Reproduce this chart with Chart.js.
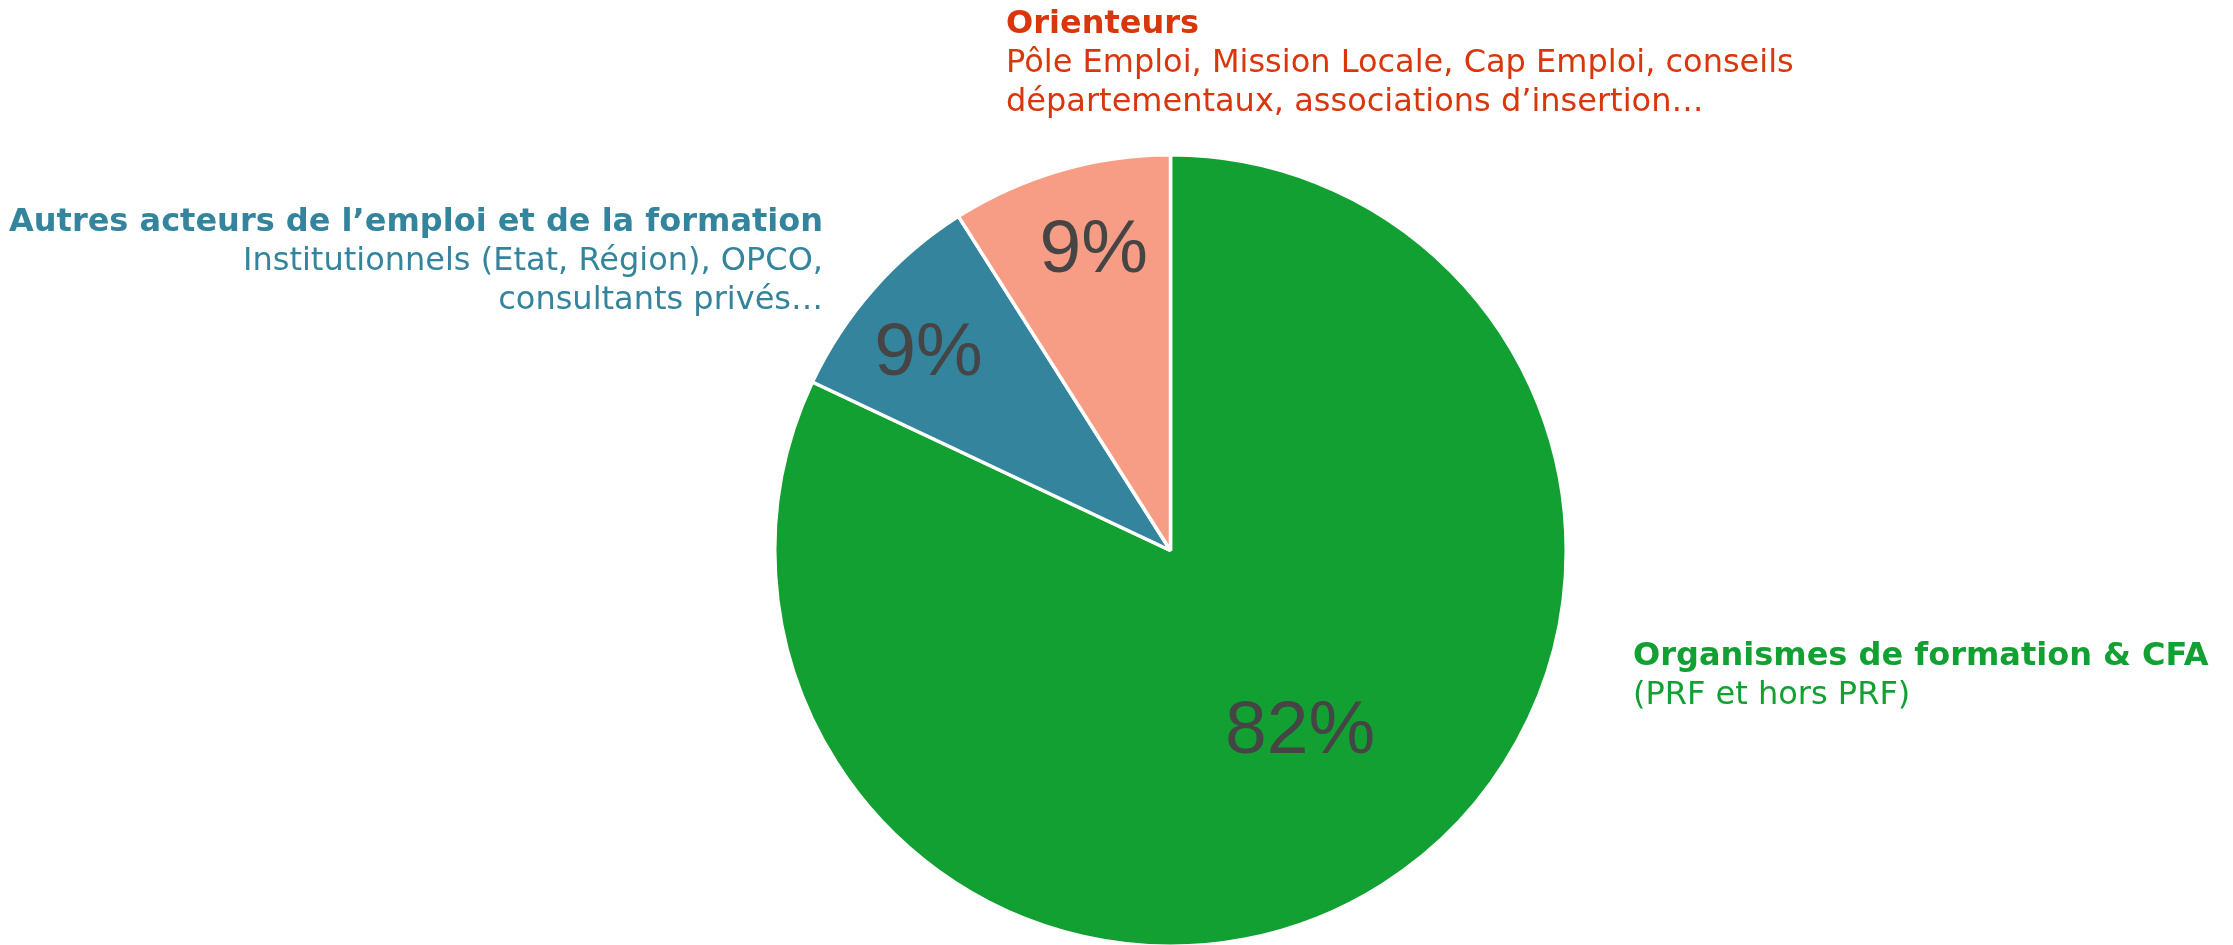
<!DOCTYPE html>
<html>
<head>
<meta charset="utf-8">
<script src="https://cdn.jsdelivr.net/npm/chart.js@4/dist/chart.umd.min.js"></script>
<style>
    html, body { margin: 0; padding: 0; background: #fff; overflow: hidden; }
    #wrap { width: 2233px; height: 960px; position: relative; }
</style>
</head>
<body>
<div id="wrap"><canvas id="pieChart"></canvas></div>
<script>
    // Data
    var categories = ["Organismes de formation & CFA", "Autres acteurs de l’emploi et de la formation", "Orienteurs"];
    var shares = [82, 9, 9];
    var sliceColors = ["#13A033", "#33849C", "#F89D85"];
    var textColors = ["#13A033", "#33849C", "#D9360B"];
    var details = [
        ["(PRF et hors PRF)"],
        ["Institutionnels (Etat, Région), OPCO,", "consultants privés…"],
        ["Pôle Emploi, Mission Locale, Cap Emploi, conseils", "départementaux, associations d’insertion…"]
    ];

    // Where each outside label block sits (x, first baseline, alignment)
    var labelBlocks = [
        { x: 1633, y: 665, align: "left" },
        { x: 823, y: 231, align: "right" },
        { x: 1006, y: 33, align: "left" }
    ];
    // small nudges of the percentage labels away from the slice middle
    var pctNudge = [[13, -8], [-6, 6], [11, -3]];

    // Percentages inside the slices
    var percentLabels = {
        id: "percentLabels",
        afterDatasetsDraw: function(chart) {
            var ctx = chart.ctx;
            var meta = chart.getDatasetMeta(0);
            ctx.save();
            ctx.font = "75px 'Liberation Sans', Arial, sans-serif";
            ctx.fillStyle = "#454545";
            ctx.textAlign = "center";
            ctx.textBaseline = "alphabetic";
            meta.data.forEach(function(arc, i) {
                var p = arc.getProps(["x", "y", "startAngle", "endAngle", "outerRadius"], true);
                var mid = (p.startAngle + p.endAngle) / 2;
                var frac = (p.endAngle - p.startAngle) > Math.PI ? 0.55 : 0.795;
                var r = p.outerRadius * frac;
                var cx = p.x + Math.cos(mid) * r + pctNudge[i][0];
                var cy = p.y + Math.sin(mid) * r + pctNudge[i][1];
                ctx.fillText(shares[i] + "%", cx, cy + 27);
            });
            ctx.restore();
        }
    };

    // Category names and descriptions outside the pie
    var outsideLabels = {
        id: "outsideLabels",
        afterDraw: function(chart) {
            var ctx = chart.ctx;
            ctx.save();
            ctx.textBaseline = "alphabetic";
            categories.forEach(function(name, i) {
                var b = labelBlocks[i];
                ctx.textAlign = b.align;
                ctx.fillStyle = textColors[i];
                ctx.font = "bold 32px 'DejaVu Sans', Verdana, sans-serif";
                ctx.fillText(name, b.x, b.y);
                ctx.font = "32px 'DejaVu Sans', Verdana, sans-serif";
                details[i].forEach(function(line, j) {
                    ctx.fillText(line, b.x, b.y + 39 * (j + 1));
                });
            });
            ctx.restore();
        }
    };

    var ctx = document.getElementById("pieChart").getContext("2d");
    new Chart(ctx, {
        type: "pie",
        data: {
            labels: categories,
            datasets: [{
                data: shares,
                backgroundColor: sliceColors,
                borderColor: "#ffffff",
                borderWidth: 3.5
            }]
        },
        options: {
            responsive: true,
            maintainAspectRatio: false,
            animation: false,
            layout: {
                padding: { left: 772, right: 664, top: 153, bottom: 12 }
            },
            plugins: {
                legend: { display: false },
                tooltip: { enabled: false }
            }
        },
        plugins: [percentLabels, outsideLabels]
    });
</script>
</body>
</html>
